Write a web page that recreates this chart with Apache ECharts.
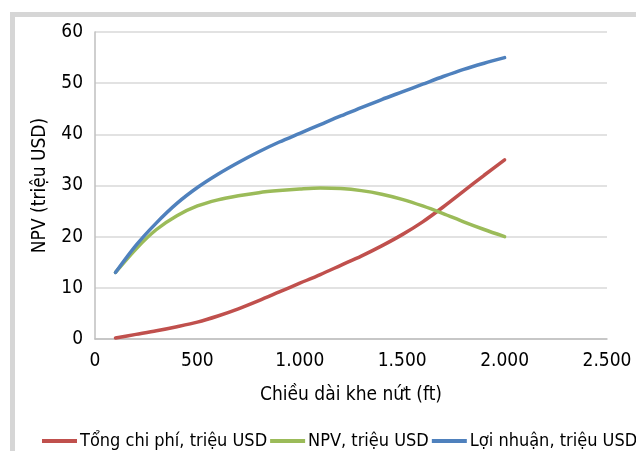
<!DOCTYPE html>
<html>
<head>
<meta charset="utf-8">
<script src="https://cdn.jsdelivr.net/npm/echarts@6/dist/echarts.min.js"></script>
<style>
  html, body { margin: 0; padding: 0; background: #ffffff; }
  #chart { width: 636px; height: 451px; }
</style>
</head>
<body>
<div id="chart"></div>
<script>
// Fracture half-length (ft) vs. economics, in million USD
const fracLength = [100, 200, 300, 400, 500, 600, 700, 800, 900, 1000, 1100, 1200, 1300, 1400, 1500, 1600, 1700, 1800, 1900, 2000];
const totalCost  = [0.2, 0.9, 1.6, 2.4, 3.3, 4.5, 5.9, 7.5, 9.2, 10.9, 12.6, 14.4, 16.2, 18.2, 20.4, 22.9, 25.8, 28.9, 32.0, 35.0];
const npv        = [13.0, 17.6, 21.4, 24.1, 26.0, 27.2, 28.0, 28.6, 29.0, 29.3, 29.5, 29.4, 29.0, 28.3, 27.3, 26.0, 24.5, 22.9, 21.4, 20.0];
const profit     = [13.0, 18.3, 22.7, 26.5, 29.6, 32.2, 34.5, 36.6, 38.5, 40.2, 41.9, 43.6, 45.2, 46.8, 48.3, 49.8, 51.3, 52.7, 53.9, 55.0];

const seriesNames = ['Tổng chi phí, triệu USD', 'NPV, triệu USD', 'Lợi nhuận, triệu USD'];
const seriesColors = ['#c0504d', '#9bbb59', '#4f81bd'];
const xTitle = 'Chiều dài khe nứt (ft)';
const yTitle = 'NPV (triệu USD)';

const FONT = '"DejaVu Sans Condensed", "Liberation Sans Narrow", "Liberation Sans", sans-serif';

function pairs(ys) { return fracLength.map((x, i) => [x, ys[i]]); }
function thousands(v) { return String(v).replace(/\B(?=(\d{3})+(?!\d))/g, '.'); }

const chart = echarts.init(document.getElementById('chart'), null, { renderer: 'canvas' });

chart.setOption({
  backgroundColor: '#ffffff',
  animation: false,
  textStyle: { fontFamily: FONT },
  graphic: [
    // light grey frame along the top and left edges
    { type: 'rect', left: 10, top: 12, shape: { width: 626, height: 5 }, style: { fill: '#d6d6d6' }, silent: true },
    { type: 'rect', left: 10, top: 12, shape: { width: 5, height: 439 }, style: { fill: '#d6d6d6' }, silent: true }
  ],
  grid: { left: 95, right: 29, top: 32, bottom: 112, containLabel: false },
  legend: {
    left: 37, top: 427, width: 640, orient: 'horizontal',
    icon: 'rect', itemWidth: 35, itemHeight: 4, itemGap: 3,
    textStyle: { fontFamily: FONT, fontSize: 18, color: '#000', padding: [0, 0, 0, -2] },
    data: seriesNames
  },
  xAxis: {
    type: 'value', min: 0, max: 2500, interval: 500,
    name: xTitle, nameLocation: 'middle', nameGap: 47,
    nameTextStyle: { fontFamily: FONT, fontSize: 19, color: '#000' },
    axisLine: { show: true, lineStyle: { color: '#bfbfbf', width: 1.5 } },
    axisTick: { show: false },
    axisLabel: { fontFamily: FONT, fontSize: 19, color: '#000', margin: 13, formatter: thousands },
    splitLine: { show: false }
  },
  yAxis: {
    type: 'value', min: 0, max: 60, interval: 10,
    name: yTitle, nameLocation: 'middle', nameGap: 45,
    nameTextStyle: { fontFamily: FONT, fontSize: 19, color: '#000' },
    axisLine: { show: true, lineStyle: { color: '#bfbfbf', width: 1.5 } },
    axisTick: { show: false },
    axisLabel: { fontFamily: FONT, fontSize: 19, color: '#000', margin: 12 },
    splitLine: { show: true, lineStyle: { color: '#d9d9d9', width: 1.5 } }
  },
  series: [totalCost, npv, profit].map((ys, i) => ({
    name: seriesNames[i],
    type: 'line',
    data: pairs(ys),
    smooth: 0.3,
    showSymbol: false,
    symbol: 'none',
    color: seriesColors[i],
    lineStyle: { color: seriesColors[i], width: 3.5, cap: 'round' },
    itemStyle: { color: seriesColors[i] }
  }))
});
</script>
</body>
</html>
